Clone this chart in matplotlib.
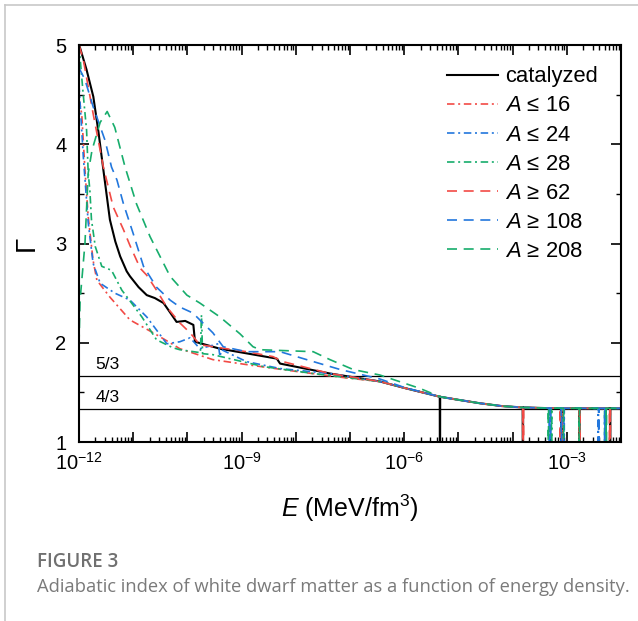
import numpy as np
import matplotlib
matplotlib.use("Agg")
import matplotlib.pyplot as plt
from matplotlib.lines import Line2D
from matplotlib.ticker import FixedLocator, FuncFormatter, MultipleLocator

plt.rcParams['font.family'] = ['Liberation Sans', 'DejaVu Sans']
plt.rcParams['mathtext.fontset'] = 'custom'
plt.rcParams['mathtext.rm'] = 'Liberation Sans'
plt.rcParams['mathtext.it'] = 'Liberation Sans:italic'
plt.rcParams['mathtext.bf'] = 'Liberation Sans:bold'

# ---------------- data (log10 E, Gamma) ----------------
tail_logE = [-6.45, -6.0, -5.34, -5.0, -4.6, -4.2, -3.81, -3.4, -3.0, -2.5, -2.0]
tail_gamma = [1.61, 1.545, 1.456, 1.425, 1.39, 1.362, 1.348, 1.342, 1.34, 1.339, 1.339]

cat_logE = [-12.0, -11.98, -11.86, -11.736, -11.64, -11.55, -11.43, -11.33, -11.24, -11.12,
            -11.06, -10.90, -10.75, -10.60, -10.44, -10.30, -10.20, -10.04, -9.89, -9.86,
            -9.40, -8.35, -8.29, -7.37]
cat_gamma = [5.0, 4.97, 4.75, 4.48, 4.12, 3.74, 3.24, 3.02, 2.87, 2.72,
             2.67, 2.56, 2.48, 2.45, 2.40, 2.29, 2.21, 2.22, 2.18, 2.01,
             1.94, 1.84, 1.79, 1.69]
cat_spikes = [-5.34, -3.81, -3.10, -2.77, -2.20]

a16_logE = [-12.0, -11.95, -11.89, -11.83, -11.74, -11.67, -11.43, -11.06, -10.63,
            -10.32, -10.14, -9.53, -8.91, -7.98, -7.06]
a16_gamma = [4.45, 4.31, 3.74, 3.27, 2.83, 2.63, 2.46, 2.23, 2.10,
             2.00, 1.94, 1.83, 1.78, 1.71, 1.645]
a16_spikes = [-3.81, -3.08, -2.77, -2.20]

a24_logE = [-12.0, -11.92, -11.83, -11.74, -11.61, -11.34, -11.06, -10.75, -10.38,
            -10.14, -9.95, -9.77, -9.43, -9.40, -9.37, -8.91, -8.29, -7.37]
a24_gamma = [4.60, 3.87, 3.21, 2.80, 2.60, 2.50, 2.43, 2.26, 1.99,
             2.01, 2.05, 1.94, 1.99, 1.86, 1.93, 1.81, 1.74, 1.69]
a24_spikes = [-3.30, -3.05, -2.42, -2.28]

a28_logE = [-12.0, -11.93, -11.86, -11.83, -11.80, -11.77, -11.70, -11.58, -11.40,
            -11.21, -11.03, -10.84, -10.57, -10.27, -10.14, -9.76, -9.74, -9.72,
            -9.53, -8.60, -7.68, -7.0]
a28_gamma = [5.0, 4.55, 4.14, 3.71, 3.54, 3.24, 2.97, 2.77, 2.73,
             2.53, 2.40, 2.26, 2.03, 1.95, 1.93, 1.90, 2.28, 1.89,
             1.88, 1.76, 1.69, 1.645]
a28_spikes = [-3.28, -3.06, -2.30]

a62_logE = [-12.0, -11.92, -11.74, -11.55, -11.37, -11.18, -11.06, -10.87, -10.75,
            -10.57, -10.38, -10.14, -9.95, -9.77, -8.91, -8.42, -8.24, -7.37]
a62_gamma = [5.0, 4.85, 4.31, 3.77, 3.37, 3.14, 2.98, 2.75, 2.68,
             2.53, 2.36, 2.20, 2.10, 1.98, 1.91, 1.86, 1.81, 1.69]
a62_spikes = [-3.80, -3.12, -2.76, -2.21]

a108_logE = [-12.0, -11.89, -11.74, -11.52, -11.40, -11.30, -11.18, -11.0, -10.81,
             -10.57, -10.32, -10.14, -9.90, -9.53, -9.34, -8.91, -8.29, -7.80,
             -7.18, -6.45, -6.0]
a108_gamma = [4.77, 4.65, 4.38, 4.04, 3.77, 3.64, 3.40, 3.10, 2.77,
              2.56, 2.43, 2.36, 2.30, 2.10, 1.96, 1.91, 1.91, 1.83,
              1.73, 1.635, 1.55]
a108_spikes = [-3.32, -3.10, -2.41, -2.30]

a208_logE = [-12.0, -11.98, -11.89, -11.83, -11.76, -11.61, -11.48, -11.34, -11.15,
             -10.94, -10.69, -10.32, -10.01, -9.77, -9.40, -9.03, -8.79, -8.66,
             -7.68, -7.37, -6.94, -6.45, -5.71]
a208_gamma = [1.98, 2.43, 3.0, 3.71, 3.94, 4.22, 4.33, 4.17, 3.77,
              3.40, 3.07, 2.67, 2.48, 2.40, 2.26, 2.09, 1.96, 1.93,
              1.91, 1.83, 1.73, 1.675, 1.54]
a208_spikes = [-3.34, -2.77, -2.27]

labels = ['catalyzed', r'$\mathit{A}$ ≤ 16', r'$\mathit{A}$ ≤ 24', r'$\mathit{A}$ ≤ 28',
          r'$\mathit{A}$ ≥ 62', r'$\mathit{A}$ ≥ 108', r'$\mathit{A}$ ≥ 208']
x_tick_exps = [-12, -9, -6, -3]
y_ticks = [1, 2, 3, 4, 5]
ref_values = [5/3, 4/3]
ref_labels = ['5/3', '4/3']

RED = '#f24a45'
BLUE = '#2277dd'
GREEN = '#17ad6c'
DD = (0, (4.5, 2.2, 1.2, 2.2))
DA = (0, (6, 4))


def build(head_x, head_y, spikes):
    lx = list(head_x)
    ly = list(head_y)
    for tx, ty in zip(tail_logE, tail_gamma):
        if tx > lx[-1]:
            lx.append(tx)
            ly.append(ty)
    lx = np.array(lx)
    ly = np.array(ly)
    eps = 0.004
    for s in spikes:
        g = np.interp(s, lx, ly)
        idx = np.searchsorted(lx, s)
        lx = np.insert(lx, idx, [s - eps, s, s + eps])
        ly = np.insert(ly, idx, [g, 0.0, g])
    return 10.0 ** lx, ly


series = [
    (cat_logE, cat_gamma, cat_spikes, 'black', '-', 1.5),
    (a16_logE, a16_gamma, a16_spikes, RED, DD, 1.2),
    (a24_logE, a24_gamma, a24_spikes, BLUE, DD, 1.2),
    (a28_logE, a28_gamma, a28_spikes, GREEN, DD, 1.2),
    (a62_logE, a62_gamma, a62_spikes, RED, DA, 1.2),
    (a108_logE, a108_gamma, a108_spikes, BLUE, DA, 1.2),
    (a208_logE, a208_gamma, a208_spikes, GREEN, DA, 1.2),
]

fig = plt.figure(figsize=(6.38, 6.21), dpi=100)
ax = fig.add_axes([79/638, 1 - 442/621, 542/638, 397/621])

handles = []
for i, (lx, ly, sp, c, ls, lw) in enumerate(series):
    x, y = build(lx, ly, sp)
    h, = ax.plot(x, y, color=c, linestyle=ls, linewidth=lw, label=labels[i], zorder=2)
    handles.append(h)

for v, t in zip(ref_values, ref_labels):
    ax.axhline(v, color='black', linewidth=0.9, zorder=1)
    ax.text(10 ** -11.7, v + 0.04, t, fontsize=12.5, ha='left', va='bottom')

ax.set_xscale('log')
ax.set_xlim(1e-12, 1e-2)
ax.set_ylim(1, 5)

ax.xaxis.set_major_locator(FixedLocator([10.0 ** k for k in range(-12, -1)]))
ax.xaxis.set_minor_locator(FixedLocator([m * 10.0 ** k for k in range(-12, -2) for m in range(2, 10)]))


def xfmt(v, pos):
    e = int(round(np.log10(v)))
    return r'$\mathregular{10^{%d}}$' % e if e in x_tick_exps else ''


ax.xaxis.set_major_formatter(FuncFormatter(xfmt))
ax.yaxis.set_major_locator(FixedLocator(y_ticks))
ax.yaxis.set_minor_locator(MultipleLocator(0.5))

ax.tick_params(which='both', direction='in', top=True, right=True, width=1.2)
ax.tick_params(which='major', length=7, labelsize=14.5)
ax.tick_params(axis='x', which='major', pad=7)
ax.tick_params(axis='y', which='major', pad=9)
ax.tick_params(which='minor', length=3.5, width=1.0)
for s in ax.spines.values():
    s.set_linewidth(1.5)

ax.set_xlabel(r'$\mathit{E}$ (MeV/fm$^3$)', fontsize=18, labelpad=14)
ax.set_ylabel('Γ', fontsize=20, labelpad=11)

leg = ax.legend(handles=handles, loc='upper right', frameon=False, fontsize=15.8,
                handlelength=2.3, handletextpad=0.32, labelspacing=0.37,
                borderaxespad=0.3, bbox_to_anchor=(0.985, 0.985))

# caption
fig.text(37/638, 1 - 567/621, 'FIGURE 3', fontsize=13.5, color='#707070',
         family=['Open Sans', 'DejaVu Sans'], weight='semibold', ha='left', va='baseline')
fig.text(37/638, 1 - 592/621,
         'Adiabatic index of white dwarf matter as a function of energy density.',
         fontsize=13.2, color='#7a7a7a', family=['Open Sans', 'DejaVu Sans'],
         ha='left', va='baseline')

# frame lines (page border)
fig.add_artist(Line2D([4.5/638, 4.5/638], [0, 1 - 4.5/621], color='#c8c8c8', linewidth=1.2,
                      transform=fig.transFigure))
fig.add_artist(Line2D([4.5/638, 1], [1 - 4.5/621, 1 - 4.5/621], color='#c8c8c8', linewidth=1.2,
                      transform=fig.transFigure))

fig.savefig('out.png', dpi=100)
